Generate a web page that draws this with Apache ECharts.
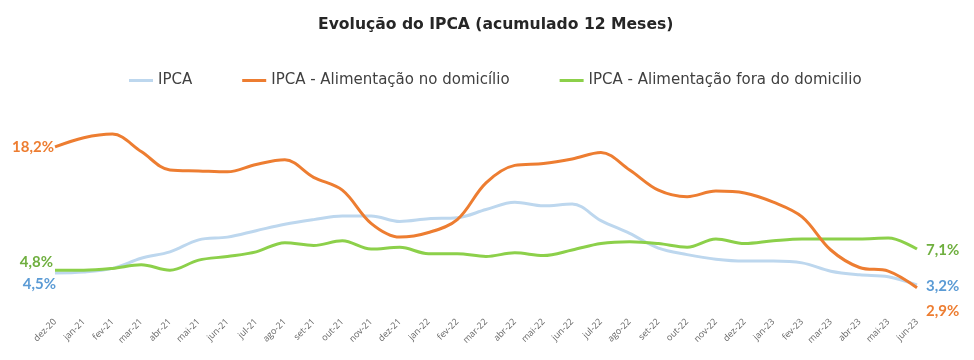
<!DOCTYPE html>
<html>
<head>
<meta charset="utf-8">
<script src="https://cdn.jsdelivr.net/npm/echarts@6/dist/echarts.min.js"></script>
<style>
html,body{margin:0;padding:0;background:#fff;}
#chart{width:974px;height:360px;}
</style>
</head>
<body>
<div id="chart"></div>
<script>
const categories = ['dez-20','jan-21','fev-21','mar-21','abr-21','mai-21','jun-21','jul-21','ago-21','set-21','out-21','nov-21','dez-21','jan-22','fev-22','mar-22','abr-22','mai-22','jun-22','jul-22','ago-22','set-22','out-22','nov-22','dez-22','jan-23','fev-23','mar-23','abr-23','mai-23','jun-23'];
const ipca = [4.5,4.6,5.0,6.1,6.8,8.1,8.4,9.1,9.8,10.3,10.7,10.7,10.1,10.4,10.5,11.4,12.2,11.8,12.0,10.2,8.8,7.2,6.5,6.0,5.8,5.8,5.6,4.7,4.3,4.1,3.2];
const alimDomicilio = [18.2,19.2,19.6,17.7,15.7,15.6,15.5,16.3,16.8,14.9,13.5,9.9,8.4,8.9,10.3,14.3,16.2,16.4,16.9,17.6,15.7,13.5,12.8,13.4,13.2,12.2,10.6,7.0,5.1,4.7,2.9];
const alimFora = [4.8,4.8,5.0,5.4,4.8,5.9,6.3,6.8,7.8,7.5,8.0,7.1,7.3,6.6,6.6,6.3,6.7,6.4,7.0,7.7,7.9,7.7,7.3,8.2,7.7,8.0,8.2,8.2,8.2,8.3,7.1];
const seriesNames = ['IPCA','IPCA - Alimentação no domicílio','IPCA - Alimentação fora do domicilio'];

const fmt = v => v.toFixed(1).replace('.', ',') + '%';
const labelFont = {fontFamily: 'Lato', fontWeight: 'bold', fontSize: 15, formatter: p => fmt(p.value)};

function withEndLabels(arr, color) {
  return arr.map((v, i) => {
    if (i === 0) {
      return {value: v, label: Object.assign({show: true, position: 'left', distance: 1, color: color}, labelFont)};
    }
    if (i === arr.length - 1) {
      return {value: v, label: Object.assign({show: true, position: 'right', distance: 9, color: color}, labelFont)};
    }
    return v;
  });
}

const chart = echarts.init(document.getElementById('chart'));

function lineSeries(name, data, color, z, firstShift, lastShift) {
  return {
    name: name, type: 'line', smooth: 0.35,
    symbol: 'circle', symbolSize: 0, showSymbol: true,
    lineStyle: {width: 3, color: color}, itemStyle: {color: color},
    label: {show: false},
    labelLayout: function (p) {
      const s = p.dataIndex === 0 ? firstShift : lastShift;
      return {dx: s[0], dy: s[1], hideOverlap: false};
    },
    data: data, z: z
  };
}

chart.setOption({
  animation: false,
  backgroundColor: '#ffffff',
  title: {
    text: 'Evolução do IPCA (acumulado 12 Meses)',
    left: 313,
    top: 12,
    textStyle: {fontFamily: 'DejaVu Sans', fontWeight: 'bold', fontSize: 15.6, color: '#262626'}
  },
  legend: {
    top: 68,
    left: 124,
    itemGap: 50,
    itemWidth: 24,
    itemHeight: 3,
    icon: 'rect',
    textStyle: {fontFamily: 'DejaVu Sans', fontSize: 15, color: '#404040'},
    data: seriesNames
  },
  grid: {left: 55, right: 57, top: 112, bottom: 45.6},
  xAxis: {
    type: 'category',
    data: categories,
    boundaryGap: false,
    axisLine: {show: false},
    axisTick: {show: false},
    axisLabel: {rotate: 45, interval: 0, margin: 6, fontFamily: 'Open Sans', fontSize: 9, color: '#666666'}
  },
  yAxis: {
    type: 'value',
    min: 0,
    max: 22,
    show: false,
    splitLine: {show: false}
  },
  series: [
    lineSeries(seriesNames[0], withEndLabels(ipca, '#5B9BD5'), '#BDD7EE', 2, [2, 11], [0, 1]),
    lineSeries(seriesNames[1], withEndLabels(alimDomicilio, '#ED7D31'), '#ED7D31', 4, [0, 0], [0, 23]),
    lineSeries(seriesNames[2], withEndLabels(alimFora, '#6FAF3F'), '#8CD04A', 3, [-1, -8], [0, 1])
  ]
});
</script>
</body>
</html>
